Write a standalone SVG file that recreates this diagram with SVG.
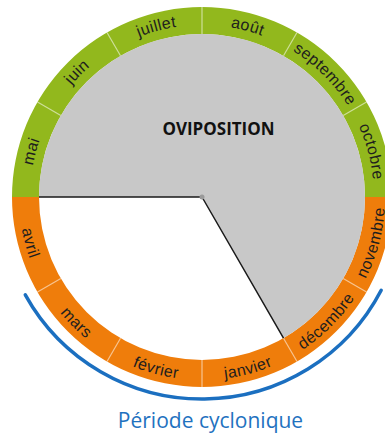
<svg xmlns="http://www.w3.org/2000/svg" xmlns:xlink="http://www.w3.org/1999/xlink" width="385" height="435" viewBox="0 0 385 435">
  <style>
    .month { font-family: "Liberation Sans", Arial, sans-serif; font-size: 16px; letter-spacing: 0.4px; fill: #1e1e1e; }
    .divider { stroke: #ffffff; stroke-opacity: 0.55; stroke-width: 1.2; fill: none; }
    .title { font-family: "Open Sans", "Liberation Sans", sans-serif; font-weight: 700; font-size: 17px; fill: #111111; }
    .caption { font-family: "Open Sans", "Liberation Sans", sans-serif; font-size: 21px; fill: #1f72bf; }
  </style>
  <defs>
    <!-- baseline arcs: upper half runs clockwise over the top, lower half runs through the bottom -->
    <path id="arcTop" d="M 30 197 A 172 172 0 0 1 374 197"/>
    <path id="arcBottom" d="M 19 197 A 183 183 0 0 0 385 197"/>
  </defs>

  <rect width="385" height="435" fill="#ffffff"/>

  <!-- ring: dry season (green) and wet season (orange) -->
  <g id="ring">
    <path d="M 12 197 A 190 190 0 0 1 392 197 L 365 197 A 163 163 0 0 0 39 197 Z" fill="#92b81d"/>
    <path d="M 12 197 A 190 190 0 0 0 392 197 L 365 197 A 163 163 0 0 1 39 197 Z" fill="#ef7d0b"/>
  </g>

  <!-- oviposition sector -->
  <g id="oviposition">
    <path d="M 202 197 L 39 197 A 163 163 0 1 1 283.5 338.2 Z" fill="#c8c8c8"/>
    <text class="title" x="218.5" y="135" text-anchor="middle">OVIPOSITION</text>
  </g>

  <!-- month separators -->
  <g id="dividers">
    <line class="divider" x1="343.2" y1="115.5" x2="366.5" y2="102"/>
    <line class="divider" x1="283.5" y1="55.8" x2="297" y2="32.5"/>
    <line class="divider" x1="202" y1="34" x2="202" y2="7"/>
    <line class="divider" x1="120.5" y1="55.8" x2="107" y2="32.5"/>
    <line class="divider" x1="60.8" y1="115.5" x2="37.5" y2="102"/>
    <line class="divider" x1="60.8" y1="278.5" x2="37.5" y2="292"/>
    <line class="divider" x1="120.5" y1="338.2" x2="107" y2="361.5"/>
    <line class="divider" x1="202" y1="360" x2="202" y2="387"/>
    <line class="divider" x1="283.5" y1="338.2" x2="297" y2="361.5"/>
    <line class="divider" x1="343.2" y1="278.5" x2="366.5" y2="292"/>
  </g>

  <!-- month labels -->
  <g id="months-top">
    <text class="month"><textPath xlink:href="#arcTop" href="#arcTop" startOffset="8.333%" text-anchor="middle">mai</textPath></text>
    <text class="month"><textPath xlink:href="#arcTop" href="#arcTop" startOffset="25%" text-anchor="middle">juin</textPath></text>
    <text class="month"><textPath xlink:href="#arcTop" href="#arcTop" startOffset="41.667%" text-anchor="middle">juillet</textPath></text>
    <text class="month"><textPath xlink:href="#arcTop" href="#arcTop" startOffset="58.333%" text-anchor="middle">août</textPath></text>
    <text class="month"><textPath xlink:href="#arcTop" href="#arcTop" startOffset="75%" text-anchor="middle">septembre</textPath></text>
    <text class="month"><textPath xlink:href="#arcTop" href="#arcTop" startOffset="91.667%" text-anchor="middle">octobre</textPath></text>
  </g>
  <g id="months-bottom">
    <text class="month"><textPath xlink:href="#arcBottom" href="#arcBottom" startOffset="8.333%" text-anchor="middle">avril</textPath></text>
    <text class="month"><textPath xlink:href="#arcBottom" href="#arcBottom" startOffset="25%" text-anchor="middle">mars</textPath></text>
    <text class="month"><textPath xlink:href="#arcBottom" href="#arcBottom" startOffset="41.667%" text-anchor="middle">février</textPath></text>
    <text class="month"><textPath xlink:href="#arcBottom" href="#arcBottom" startOffset="58.333%" text-anchor="middle">janvier</textPath></text>
    <text class="month"><textPath xlink:href="#arcBottom" href="#arcBottom" startOffset="75%" text-anchor="middle">décembre</textPath></text>
    <text class="month"><textPath xlink:href="#arcBottom" href="#arcBottom" startOffset="91.667%" text-anchor="middle">novembre</textPath></text>
  </g>

  <!-- sector edges and hub -->
  <g id="connectors">
    <path d="M 39 197 L 202 197 L 283.5 338.2" fill="none" stroke="#1a1a1a" stroke-width="1.5" stroke-linejoin="round"/>
    <circle cx="202" cy="197" r="2.5" fill="#9a9a9a"/>
  </g>

  <!-- cyclone season bracket -->
  <g id="cyclone-period">
    <path d="M 25.3 294.9 A 202 202 0 0 0 381.2 290.3" fill="none" stroke="#1b6fc0" stroke-width="3.5" stroke-linecap="round"/>
    <text class="caption" x="210.5" y="428" text-anchor="middle">Période cyclonique</text>
  </g>
</svg>
